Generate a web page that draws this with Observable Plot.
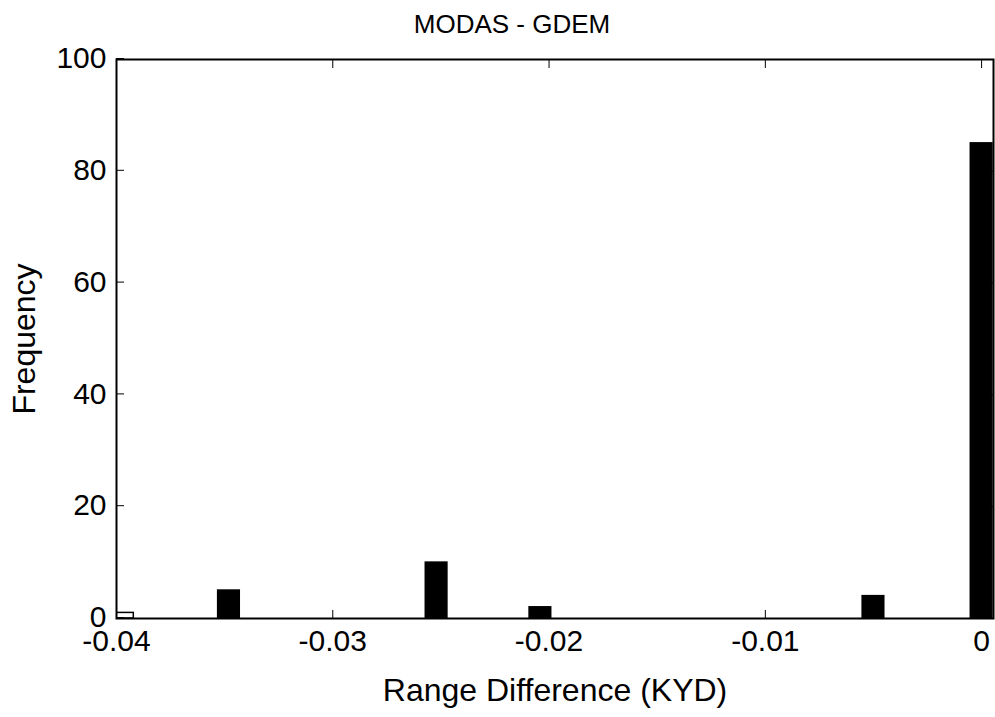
<!DOCTYPE html>
<html><head><meta charset="utf-8">
<script src="https://cdn.jsdelivr.net/npm/d3@7"></script>
<script src="https://cdn.jsdelivr.net/npm/@observablehq/plot@0.6"></script>
<style>body{margin:0;background:#fff} #chart svg{font-family:"Liberation Sans",Arial,sans-serif;background:#fff}</style>
</head><body><div id="chart"></div>
<script>
const title = "MODAS - GDEM";
const xLabel = "Range Difference (KYD)";
const yLabel = "Frequency";
const binCenters = [-0.0397, -0.0348, -0.0252, -0.0204, -0.0050, 0.0000];
const frequencies = [1, 5, 10, 2, 4, 85];
const outlined = [true, false, false, false, false, false];
const binWidth = 0.001;
const xTicks = [-0.04, -0.03, -0.02, -0.01, 0];
const xTickLabels = ["-0.04", "-0.03", "-0.02", "-0.01", "0"];
const yTicks = [0, 20, 40, 60, 80, 100];
const yTickLabels = ["0", "20", "40", "60", "80", "100"];

const bars = binCenters.map((c, i) => ({x1: c - binWidth / 2, x2: c + binWidth / 2, y: frequencies[i], open: outlined[i]}));
const fmtX = d => xTickLabels[xTicks.indexOf(d)];
const fmtY = d => yTickLabels[yTicks.indexOf(d)];

const chart = Plot.plot({
  width: 995, height: 717,
  marginLeft: 116, marginRight: 2, marginTop: 59, marginBottom: 99,
  style: {fontSize: "30px", color: "#000"},
  x: {domain: [-0.04, 0.00055]},
  y: {domain: [0, 100]},
  marks: [
    Plot.rectY(bars, {x1: "x1", x2: "x2", y: "y", fill: d => d.open ? "#fff" : "#000", stroke: "#000", strokeWidth: 1.5, clip: true}),
    Plot.frame({stroke: "#000", strokeWidth: 2}),
    Plot.axisX(xTicks, {anchor: "bottom", tickSize: -8, tickPadding: 19, tickFormat: fmtX, fontSize: 30, label: null}),
    Plot.axisX({anchor: "bottom", ticks: [], label: xLabel, labelAnchor: "center", labelOffset: 82, labelArrow: false, fontSize: 32, dx: -7}),
    Plot.axisX(xTicks, {anchor: "top", tickSize: -8, tickFormat: () => "", label: null}),
    Plot.axisY(yTicks, {anchor: "left", tickSize: -8, tickPadding: 18, tickFormat: fmtY, fontSize: 30, label: null, dy: -1}),
    Plot.axisY({anchor: "left", ticks: [], label: yLabel, labelAnchor: "center", labelOffset: 104, labelArrow: false, fontSize: 32, dy: -2}),
    Plot.axisY(yTicks, {anchor: "right", tickSize: -8, tickFormat: () => "", label: null}),
    Plot.text([title], {frameAnchor: "top", dx: -43, dy: -35, fontSize: 26, lineAnchor: "middle"})
  ]
});
document.getElementById("chart").appendChild(chart);
</script>
</body></html>
